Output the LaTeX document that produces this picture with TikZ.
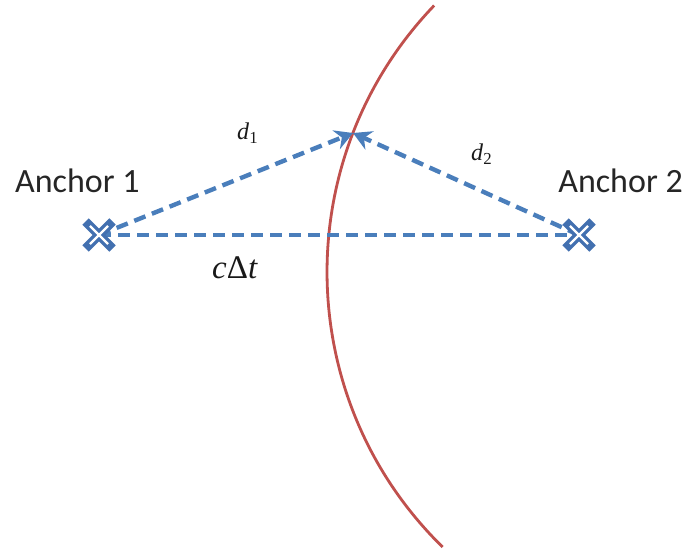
\documentclass[tikz,border=0pt]{standalone}
\usepackage{fontspec}
\setmainfont{Liberation Serif}
\newfontfamily\calibfont{Carlito}
\usetikzlibrary{arrows.meta,shapes.misc}
\definecolor{dashblue}{HTML}{4A7EBB}
\definecolor{crossblue}{HTML}{4270B0}
\definecolor{curvered}{HTML}{C0504D}
\tikzset{
  dline/.style={draw=dashblue, line width=4.4pt, dash pattern=on 12pt off 7pt},
  darrow/.style={dline, -{Stealth[length=18pt,width=20pt,inset=6pt]}},
  curvestyle/.style={draw=curvered, line width=2.8pt},
  crossmk/.style={cross out, draw=crossblue, line width=9pt, minimum size=18pt, inner sep=0pt},
  crossin/.style={cross out, draw=white, line width=2.2pt, minimum size=16pt, inner sep=0pt},
  anchorlabel/.style={font=\calibfont\fontsize{34}{40}\selectfont, text=black!85, inner sep=0pt},
  mathlabel/.style={inner sep=0pt, text=black!90},
}
\begin{document}
\begin{tikzpicture}[x=1pt,y=1pt]
\useasboundingbox (0,0) rectangle (688,-556);
% curve (circular arc)
\coordinate (O) at (712,-272);
\draw[curvestyle] ([shift={(136.2:385)}]O) arc[start angle=136.2, end angle=225.6, radius=385];
% points
\coordinate (A1) at (99,-235);
\coordinate (A2) at (579,-235);
\coordinate (P) at (353,-133);
% connectors
\draw[dline] (A1) -- (A2);
\draw[darrow] (A1) -- (P);
\draw[darrow] (A2) -- (P);
% anchor crosses
\node[crossmk] (X1) at (A1) {};
\node[crossin] (X1i) at (A1) {};
\node[crossmk] (X2) at (A2) {};
\node[crossin] (X2i) at (A2) {};
% labels
\node[anchorlabel, anchor=base west] (L1) at (15,-193) {Anchor 1};
\node[anchorlabel, anchor=base east] (L2) at (683,-193) {Anchor 2};
\node[mathlabel, anchor=base west, font=\fontsize{24}{26}\selectfont] (D1) at (237,-140) {\textit{d}\textsubscript{1}};
\node[mathlabel, anchor=base west, font=\fontsize{24}{26}\selectfont] (D2) at (471,-161) {\textit{d}\textsubscript{2}};
\node[mathlabel, anchor=base west, font=\fontsize{33}{36}\selectfont] (CT) at (212,-278) {\textit{c}Δ\textit{t}};
\end{tikzpicture}
\end{document}
